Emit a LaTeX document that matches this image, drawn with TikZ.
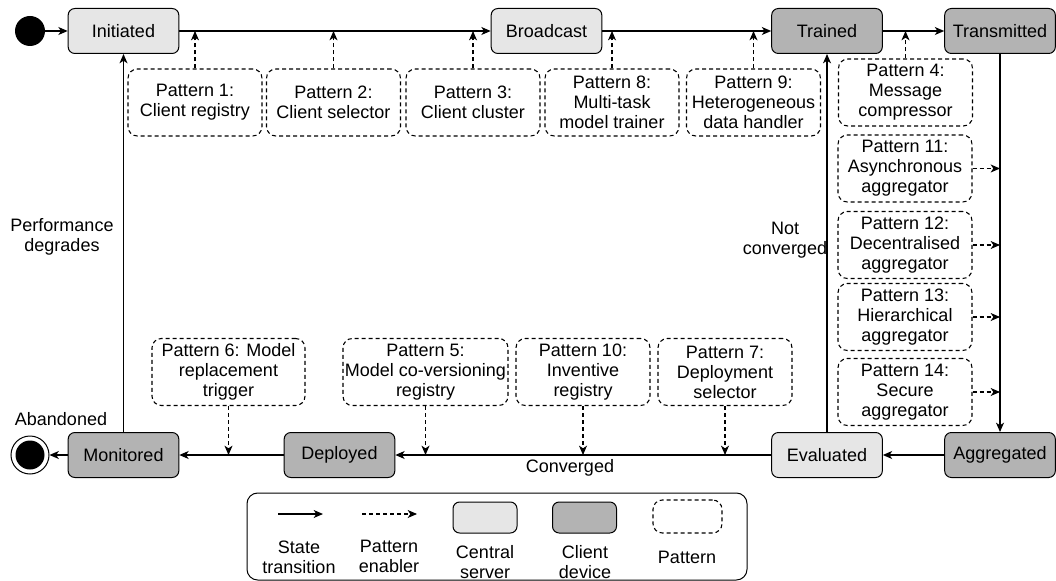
\documentclass[tikz,border=0pt]{standalone}
\usepackage{fontspec}
\setmainfont{Liberation Sans}
\usetikzlibrary{arrows.meta}
\definecolor{serverfill}{HTML}{E6E6E6}
\definecolor{clientfill}{HTML}{B3B3B3}

\begin{document}
\begin{tikzpicture}[x=0.75pt,y=-0.75pt,
    font=\fontsize{13.5}{15}\selectfont,
    server/.style={draw,rounded corners=5pt,fill=serverfill,line width=0.75pt,minimum width=83pt,minimum height=33.75pt},
    client/.style={server,fill=clientfill},
    patbox/.style={draw,line width=0.8pt,dash pattern=on 3pt off 2.25pt,rounded corners=7pt,align=center,minimum width=100.5pt,minimum height=50.25pt,inner sep=0.5pt},
    transition/.style={line width=0.9pt,-{Stealth[length=7pt,width=6pt,inset=2pt]}},
    enabler/.style={line width=0.8pt,dash pattern=on 3pt off 2.25pt,-{Stealth[length=7pt,width=6pt,inset=2pt]}}]
              \useasboundingbox (0,0) rectangle (1056,581);
              % states
              \node[circle,fill,inner sep=0pt,minimum size=22.5pt](start)at(30,31){};
              \node[server](ini)at(123.5,31){Initiated};
              \node[server](bcast)at(546.5,31){Broadcast};
              \node[client](trained)at(827,31){Trained};
              \node[client](transm)at(1000,31){Transmitted};
              \node[client](aggr)at(1000,455){Aggregated};
              \node[server](eval)at(827,455){Evaluated};
              \node[client](depl)at(339.5,455){Deployed};
              \node[client](mon)at(123.5,455){Monitored};
              \node[circle,draw,line width=0.75pt,inner sep=0pt,minimum size=28.5pt](fin)at(30,455){};
              \node[circle,fill,inner sep=0pt,minimum size=21.75pt](fin dot)at(fin){};
              % patterns
              \node[patbox](p1)at(195,102.5){Pattern 1:\\Client registry};
              \node[patbox](p2)at(333.5,102.5){Pattern 2:\\Client selector};
              \node[patbox](p3)at(473,102.5){Pattern 3:\\Client cluster};
              \node[patbox](p8)at(612,102.5){Pattern 8:\\Multi-task\\model trainer};
              \node[patbox](p9)at(753.5,102.5){Pattern 9:\\Heterogeneous\\data handler};
              \node[patbox](p4)at(905.5,92.5){Pattern 4:\\Message\\compressor};
              \node[patbox](p11)at(905,168.5){Pattern 11:\\Asynchronous\\aggregator};
              \node[patbox](p12)at(905,245){Pattern 12:\\Decentralised\\aggregator};
              \node[patbox](p13)at(905,317){Pattern 13:\\Hierarchical\\aggregator};
              \node[patbox](p14)at(905,392){Pattern 14:\\Secure\\aggregator};
              \node[patbox,minimum width=114.75pt](p6)at(228.5,372){Pattern 6: Model\\replacement\\trigger};
              \node[patbox,minimum width=123.75pt](p5)at(425.5,372){Pattern 5:\\Model co-versioning\\registry};
              \node[patbox](p10)at(583,372){Pattern 10:\\Inventive\\registry};
              \node[patbox](p7)at(725,372){Pattern 7:\\Deployment\\selector};
              % transitions
              \draw[transition](start)--(ini);
              \draw[transition](ini)--(bcast);
              \draw[transition](bcast)--(trained);
              \draw[transition](trained)--(transm);
              \draw[transition](transm)--(aggr);
              \draw[transition](aggr)--(eval);
              \draw[transition](eval)--(depl);
              \draw[transition](depl)--(mon);
              \draw[transition](mon)--(fin);
              \draw[transition](mon)--(ini);
              \draw[transition](eval)--(trained);
              % enablers
              \draw[enabler](p1.north)--(p1.north|-ini.east);
              \draw[enabler](p2.north)--(p2.north|-ini.east);
              \draw[enabler](p3.north)--(p3.north|-ini.east);
              \draw[enabler](p8.north)--(p8.north|-bcast.east);
              \draw[enabler](p9.north)--(p9.north|-bcast.east);
              \draw[enabler](p4.north)--(p4.north|-trained.east);
              \draw[enabler](p11.east)--(p11.east-|transm.south);
              \draw[enabler](p12.east)--(p12.east-|transm.south);
              \draw[enabler](p13.east)--(p13.east-|transm.south);
              \draw[enabler](p14.east)--(p14.east-|transm.south);
              \draw[enabler](p6.south)--(p6.south|-mon.east);
              \draw[enabler](p5.south)--(p5.south|-mon.east);
              \draw[enabler](p10.south)--(p10.south|-mon.east);
              \draw[enabler](p7.south)--(p7.south|-mon.east);
              % labels
              \node[align=center](perf)at(62,237){Performance\\degrades};
              \node[align=center](notconv)at(785,240){Not\\converged};
              \node(conv)at(570,468){Converged};
              \node(aband)at(61,419){Abandoned};
              % legend
              \node[draw,rounded corners=8pt,line width=0.75pt,minimum width=375pt,minimum height=65.25pt](legend)at(497,536.5){};
              \coordinate(ts a)at(278,514);
              \coordinate(ts b)at(323,514);
              \draw[transition](ts a)--(ts b);
              \coordinate(pe a)at(362,514);
              \coordinate(pe b)at(417,514);
              \draw[enabler](pe a)--(pe b);
              \node[server,minimum width=48pt,minimum height=23.25pt](lg server)at(485,517.5){};
              \node[client,minimum width=48pt,minimum height=23.25pt](lg client)at(584.5,517.5){};
              \node[patbox,minimum width=51.75pt,minimum height=24.75pt](lg pattern)at(687.5,516.5){};
              \node[align=center](lbl ts)at(299,557){State\\transition};
              \node[align=center](lbl pe)at(389,556){Pattern\\enabler};
              \node[align=center](lbl cs)at(485,562){Central\\server};
              \node[align=center](lbl cd)at(585,562){Client\\device};
              \node(lbl pt)at(687,557){Pattern};
            \end{tikzpicture}
\end{document}
